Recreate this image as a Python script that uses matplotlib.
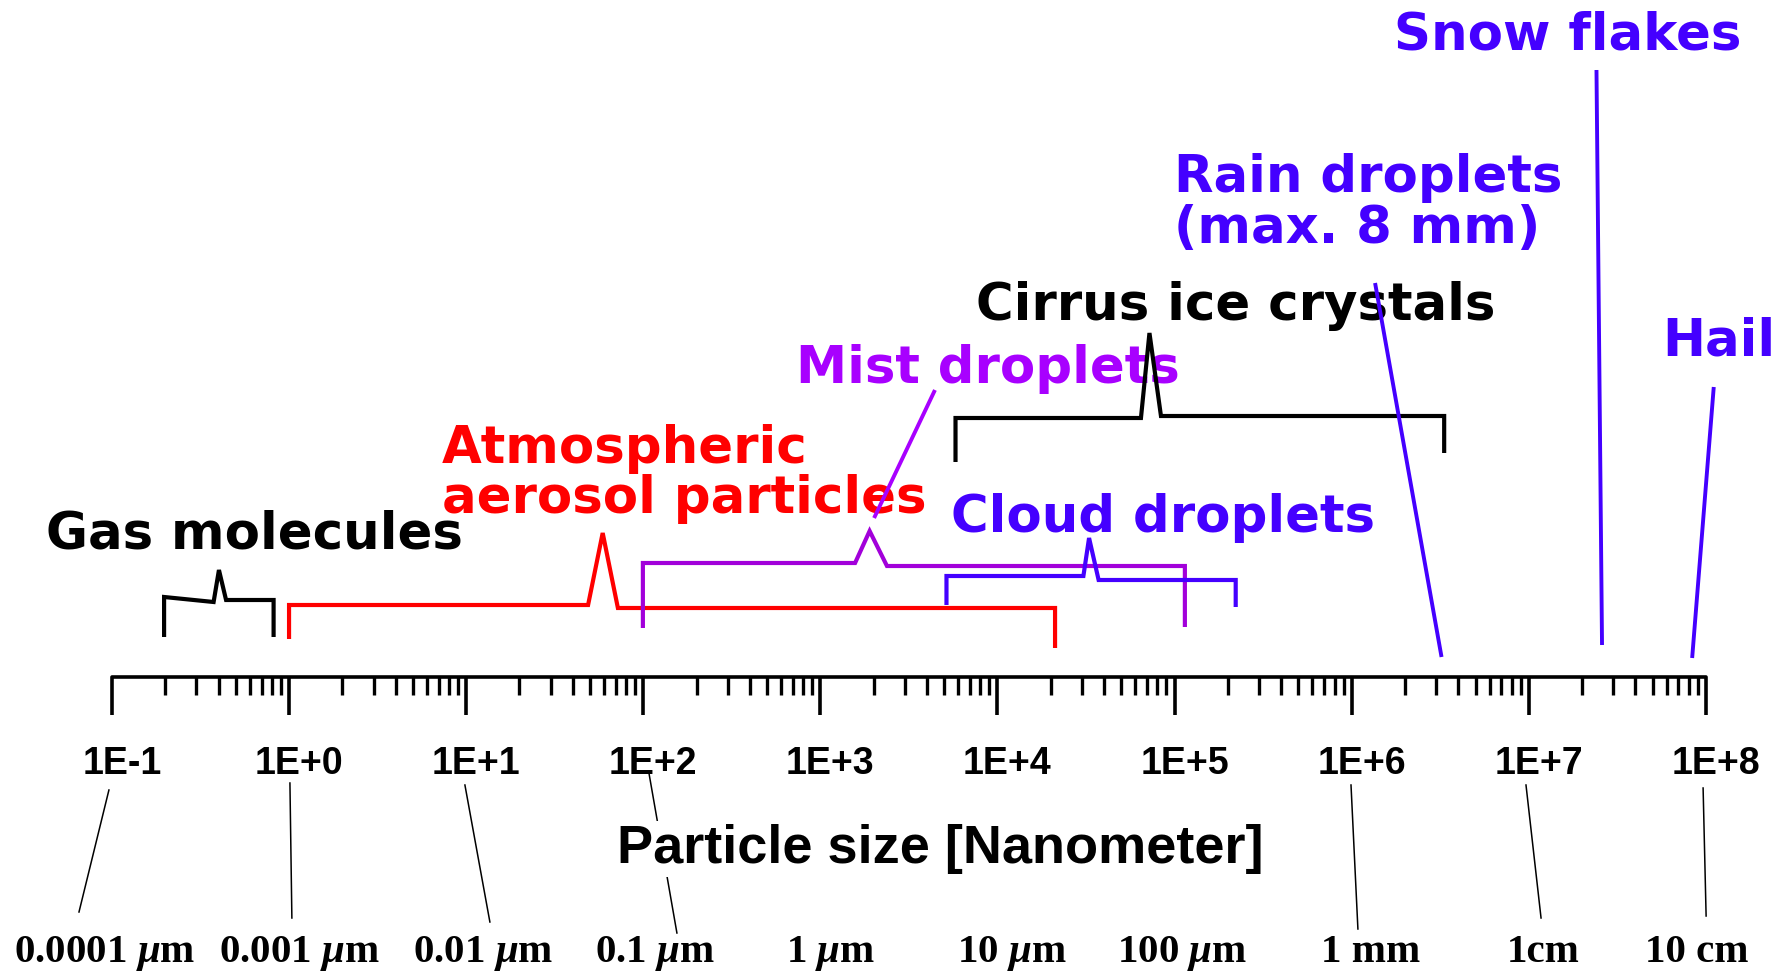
import numpy as np
import matplotlib
matplotlib.use("Agg")
import matplotlib.pyplot as plt
from matplotlib.transforms import ScaledTranslation

plt.rcParams['mathtext.fontset'] = 'custom'
plt.rcParams['mathtext.rm'] = 'Liberation Serif:bold'
plt.rcParams['mathtext.it'] = 'Liberation Serif:italic:bold'

# ---------------- data ----------------
decades = np.arange(-1, 9)                      # log10 of particle size in nm
tick_labels = ["1E-1", "1E+0", "1E+1", "1E+2", "1E+3",
               "1E+4", "1E+5", "1E+6", "1E+7", "1E+8"]
unit_labels = ["0.0001 $\\mu$m", "0.001 $\\mu$m", "0.01 $\\mu$m", "0.1 $\\mu$m",
               "1 $\\mu$m", "10 $\\mu$m", "100 $\\mu$m", "1 mm", "1cm", "10 cm"]
unit_label_pos = [10**-1.040, 10**0.056, 10**1.095, 10**2.066, 10**3.060,
                  10**4.082, 10**5.042, 10**6.109, 10**7.080, 10**7.950]

# leader lines from tick label to unit label (nm top, nm bottom)
leader_top = [10**-1.017, 10**0.005, 10**0.993, 10**2.032, 10**5.996, 10**6.984, 10**7.984]
leader_bot = [10**-1.186, 10**0.016, 10**1.134, 10**2.190, 10**6.035, 10**7.069, 10**8.001]
leader_y_top = [790, 783, 785, 773, 785, 785, 788]
leader_y_bot = [912, 918, 922, 933, 929, 918, 916]

# size ranges (nm): low, peak-ramp-start, peak, peak-ramp-end, high
categories = ["Gas molecules", "Atmospheric aerosol particles", "Mist droplets",
              "Cloud droplets", "Cirrus ice crystals"]
range_lo = [0.197, 1.0, 99.5, 5152, 5794]
range_ps = [0.375, 48.8, 1570, 30550, 64570]
range_pk = [0.402, 59.0, 1897, 32890, 72110]
range_pe = [0.441, 71.9, 2377, 37240, 83750]
range_hi = [0.818, 21135, 114290, 221300, 3.327e6]
# vertical placement (y in px from top)
y_bot_l = [637, 639, 628, 605, 462]
y_bar_l = [597, 605, 563, 576, 418]
y_bar_le = [602, 605, 563, 576, 418]
y_peak = [570, 533, 531, 538, 333]
y_bar_r = [600, 608, 566, 580, 416]
y_bot_r = [637, 648, 627, 607, 453]
bracket_colors = ["black", "#FF0000", "#A200DA", "#4400FF", "black"]

# single pointer lines: rain, snow, hail
pointer_x0 = [1.355e6, 2.41e7, 1.107e8]
pointer_y0 = [283, 70, 387]
pointer_x1 = [3.215e6, 2.59e7, 8.36e7]
pointer_y1 = [657, 645, 658]
mist_leader_x = [2010, 4436]
mist_leader_y = [518, 390]

# text labels
label_text = ["Gas molecules", "Atmospheric", "aerosol particles", "Mist droplets",
              "Cloud droplets", "Cirrus ice crystals", "Rain droplets",
              "(max. 8 mm)", "Snow flakes", "Hail"]
label_x = [0.0424, 7.29, 7.29, 727.8, 5458, 7603, 99310, 99310, 1.722e6, 5.69e7]
label_y = [548, 463, 513, 383, 532, 320, 192, 243, 50, 355]
label_col = ["black", "#FF0000", "#FF0000", "#A800FF", "#4400FF", "black",
             "#4400FF", "#4400FF", "#4400FF", "#4400FF"]

# ---------------- figure ----------------
fig = plt.figure(figsize=(17.89, 9.72), dpi=100)
ax = fig.add_axes([0, 0, 1, 1])
ax.set_xscale('log')
ax.set_xlim(10**-1.632, 10**8.469)
ax.set_ylim(972, 0)
ax.axis('off')

# ruler axis
y_axis, y_major, y_minor = 677, 715, 695
lo_end, hi_end = 10.0**decades[0], 10.0**decades[-1]
ax.plot([lo_end, lo_end, hi_end, hi_end], [y_major, y_axis, y_axis, y_major],
        color='black', lw=2.6, solid_joinstyle='round', solid_capstyle='butt')
for d in decades[1:-1]:
    ax.plot([10.0**d, 10.0**d], [y_axis, y_major], color='black', lw=2.6,
            solid_capstyle='butt')
for d in decades[:-1]:
    for k in range(2, 10):
        ax.plot([k * 10.0**d] * 2, [y_axis, y_minor], color='black', lw=2.4,
                solid_capstyle='butt')

# tick labels
off = ScaledTranslation(10 / 100, 0, fig.dpi_scale_trans)
for d, lab in zip(decades, tick_labels):
    ax.text(10.0**d, 774, lab, ha='center', va='baseline', fontsize=27,
            fontweight='bold', family=['Liberation Sans', 'DejaVu Sans'],
            transform=ax.transData + off)

# leader lines
for xt, xb, yt, yb in zip(leader_top, leader_bot, leader_y_top, leader_y_bot):
    ax.plot([xt, xb], [yt, yb], color='black', lw=1.1, zorder=1)

# axis title
ax.text(10**3.675, 863, "Particle size [Nanometer]", ha='center', va='baseline',
        fontsize=39, fontweight='bold', family=['Liberation Sans', 'DejaVu Sans'],
        zorder=3, bbox=dict(facecolor='white', edgecolor='none', pad=2))

# unit labels
for x, lab in zip(unit_label_pos, unit_labels):
    ax.text(x, 962, lab, ha='center', va='baseline', fontsize=29.5,
            fontweight='bold', family=['Liberation Serif', 'DejaVu Serif'])

# brackets
for i in range(len(categories)):
    xs = [range_lo[i], range_lo[i], range_ps[i], range_pk[i], range_pe[i],
          range_hi[i], range_hi[i]]
    ys = [y_bot_l[i], y_bar_l[i], y_bar_le[i], y_peak[i], y_bar_r[i],
          y_bar_r[i], y_bot_r[i]]
    ax.plot(xs, ys, color=bracket_colors[i], lw=3.0, solid_joinstyle='miter',
            solid_capstyle='butt', zorder=2)

# pointer lines
for x0, y0, x1, y1 in zip(pointer_x0, pointer_y0, pointer_x1, pointer_y1):
    ax.plot([x0, x1], [y0, y1], color='#4400FF', lw=2.8, solid_capstyle='butt',
            zorder=2)
ax.plot(mist_leader_x, mist_leader_y, color='#A800FF', lw=2.8,
        solid_capstyle='butt', zorder=2)

# category labels
for t, x, y, c in zip(label_text, label_x, label_y, label_col):
    ax.text(x, y, t, ha='left', va='baseline', fontsize=37, fontweight='bold',
            color=c, family=['DejaVu Sans'], zorder=1)

fig.savefig('out.png', dpi=100)
